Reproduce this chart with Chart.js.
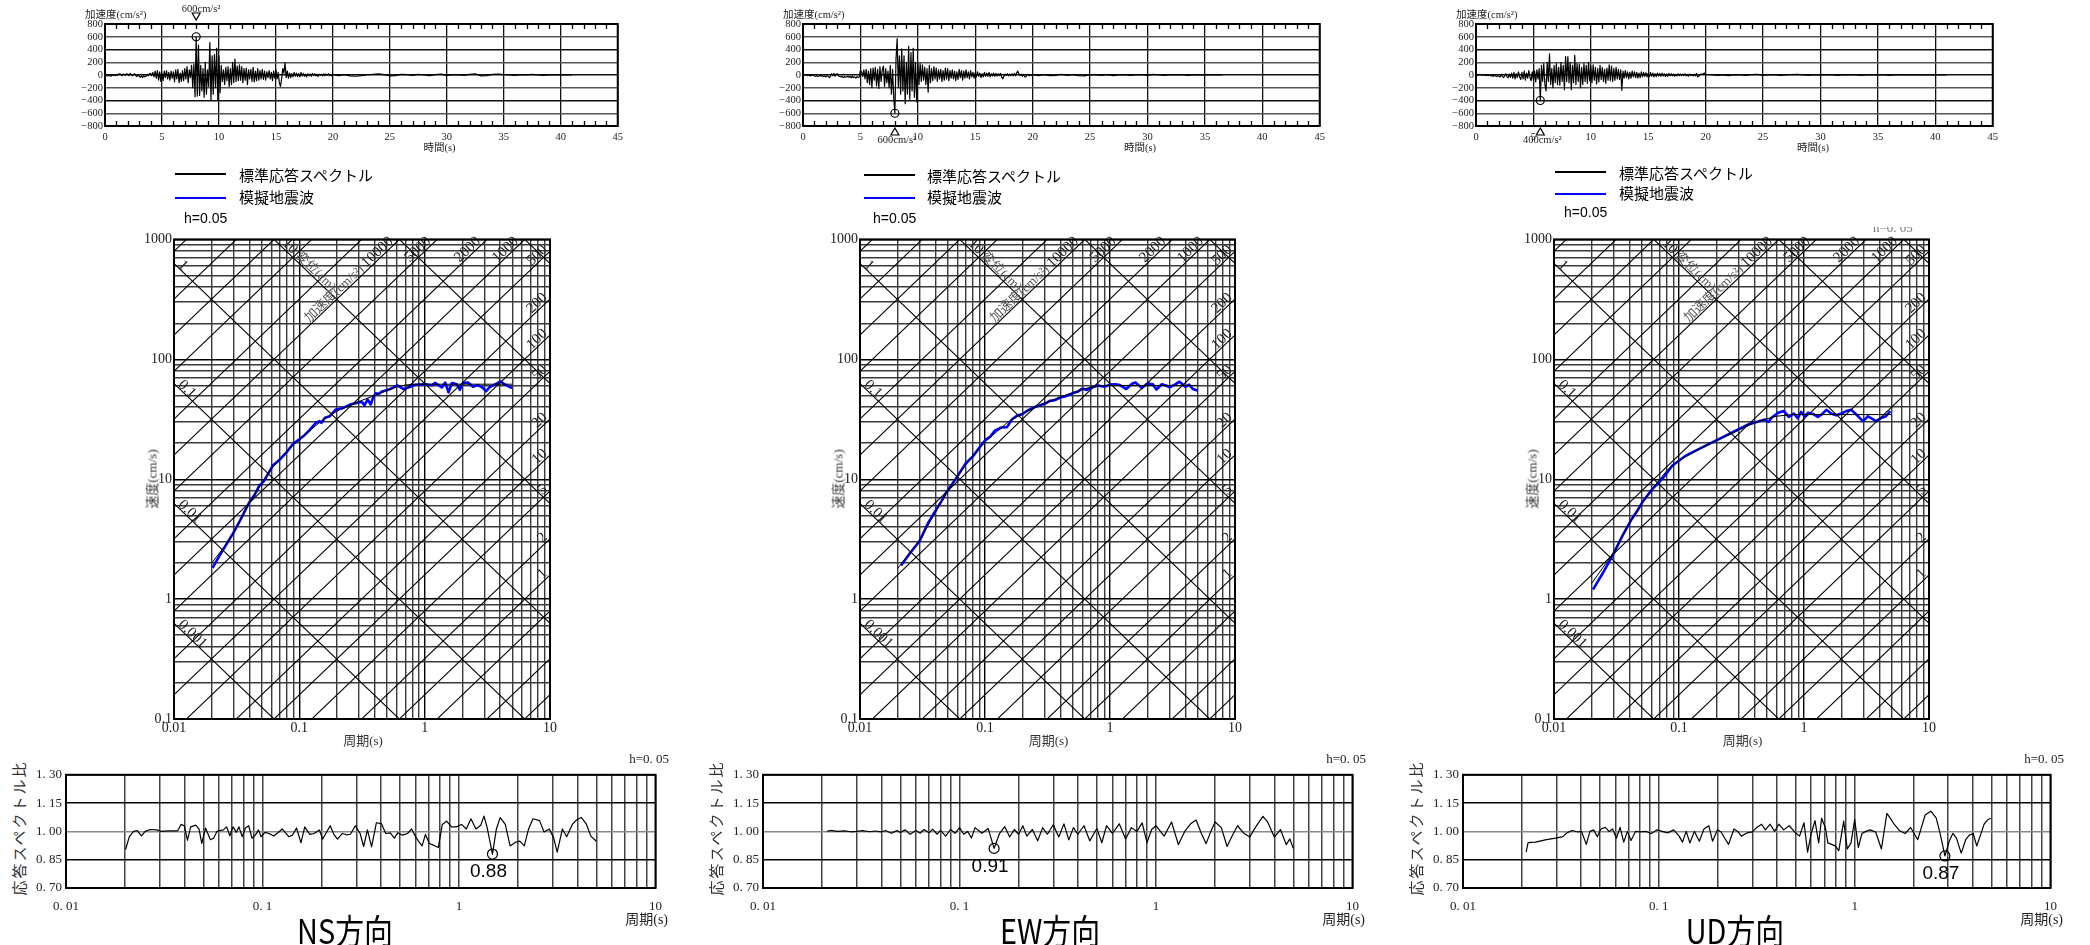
<!DOCTYPE html>
<html><head><meta charset="utf-8">
<script src="https://cdn.jsdelivr.net/npm/chart.js@4.4.1/dist/chart.umd.min.js"></script>
<style>
html,body{margin:0;padding:0;background:#fff;}
#root{position:relative;width:2090px;height:945px;overflow:hidden;background:#fff;}
canvas{position:absolute;}
.t{position:absolute;white-space:nowrap;line-height:1;}
.ln{position:absolute;height:2px;}
.clip{position:absolute;overflow:hidden;}
</style></head><body><div id="root"></div>
<script>
// ---------------- DATA ----------------
const TIME_TICKS = [0,5,10,15,20,25,30,35,40,45];
const ACC_TICKS = [-800,-600,-400,-200,0,200,400,600,800];
const DT_STRONG = 0.1, DT_TAIL = 0.5;

const nsAccStrong = [
-5,-10,-15,-8,-12,-18,-10,5,-8,-12,
10,-5,15,20,5,-10,15,10,-5,20,
15,-10,25,10,-15,5,20,-10,-25,10,
-20,-35,-15,-40,-10,-30,-20,10,-15,20,
25,-10,40,-30,60,-50,70,-80,50,-100,
30,-90,60,-40,70,-60,40,-80,60,-50,
50,-110,80,-60,90,-120,30,-100,70,-90,
100,-60,130,-120,80,-40,150,-200,170,-340,
600,-330,470,-320,150,-250,100,-350,200,-300,
80,-180,510,-400,300,-300,320,-200,420,-400,
300,-280,150,-100,80,-150,120,-90,130,-180,
100,-150,200,-120,250,-100,140,-90,160,-80,
130,-120,100,-80,110,-150,80,-60,90,-100,
120,-110,60,-90,100,-80,70,-60,90,-70,
60,-80,50,-40,70,-60,40,-90,60,-50,
80,-60,40,-120,-180,-60,100,30,190,-40,
60,-50,30,-40,20,-30,40,-20,30,-25,
20,-30,40,-15,25,-20,10,-30,20,-10,
15,-20,25,-10,20,-15,10,-25,15,-5,
10,-15,20,-10,15,-5,20,-10,5,-15,
5];
const nsAccTail = [-10,5,-15,-20,-10,5,10,20,5,-15,-10,10,5,-5,10,0,-10,5,15,-5,0,5,-5,10,20,-15,-10,10,15,5,0,-5,5,0,10,0,-5,0,5,0,0,0];

const ewAccStrong = [
0,5,-5,10,-10,5,-15,-10,5,-5,
-15,-20,-10,-25,-15,-5,-20,-10,-25,-15,
-30,-10,-25,-40,-15,20,-10,25,-20,15,
20,-15,-25,-30,-20,-40,-25,-35,-30,-20,
-35,-20,-45,-15,-40,-30,-50,-25,-40,-30,
70,50,-20,80,-60,90,-120,60,-150,100,
-200,110,-80,120,-170,90,-210,130,-100,80,
140,-180,100,-120,60,-200,150,-300,90,-350,
-600,250,570,-200,300,-300,410,-250,300,-450,
200,-300,450,-380,350,-250,420,-350,200,-420,
200,-150,180,-100,160,-80,120,-150,100,-270,
150,-120,100,-90,130,-60,110,-100,80,-60,
90,-100,70,-80,110,-60,100,-90,70,-50,
80,-60,60,-90,50,-70,90,-40,70,-80,
60,-50,80,-40,50,-60,70,-30,40,-50,
40,-30,50,-20,30,-40,20,-30,40,-20,
30,-20,40,-30,20,-15,30,-20,25,-15,
20,-10,25,-30,-60,-20,15,-10,20,-15,
15,-10,20,-15,25,-10,30,60,20,-10,
15,-20,10,-25,-30,5,10,-15,5,-10,
5];
const ewAccTail = [-10,5,-10,-5,10,-5,5,-10,-15,5,0,-5,5,-10,0,5,-5,0,5,-5,10,0,-5,5,0,5,-5,0,5,0,5,0,0];

const udAccStrong = [
5,0,-5,10,5,-5,0,5,-10,0,
-5,-10,5,-15,-10,-20,-5,-15,-25,-10,
-20,-30,10,-25,-40,-15,20,-30,-45,15,
-35,30,-50,40,-60,20,-40,50,-30,-70,
40,-60,60,-80,30,-50,70,-40,-90,50,
-80,60,-110,80,-60,100,-400,150,-100,180,
-150,-250,200,-100,330,-150,100,-200,150,-120,
180,-150,120,-160,200,-100,150,-230,290,-100,
290,-120,200,-230,150,-120,310,-150,180,-100,
170,-200,120,-150,180,-100,150,-130,200,-90,
140,-120,160,-80,120,-140,100,-110,150,-70,
120,-100,90,-130,110,-80,160,-90,140,-100,
100,-80,120,-60,90,-70,80,-240,60,-50,
70,-40,50,-60,40,-50,60,-30,50,-40,
40,-50,30,-40,50,-30,40,-20,35,-30,
30,-25,40,-20,30,-30,20,-25,30,-15,
25,-20,30,-15,20,-25,15,-20,25,-10,
20,-15,15,-20,10,-15,20,-10,15,-10,
15,-10,20,-15,10,-20,15,-10,5,-15,
10,-15,25,-30,-20,5,15,10,20,30,
10];
const udAccTail = [5,-5,0,-10,5,0,-5,5,10,-5,0,5,-5,0,5,10,0,-5,5,0,5,0,-5,5,0,5,-5,0,5,0,5,-5,0,5,0,5,0,0,0,0,0,0];

// Tripartite response spectra (period s, velocity cm/s)
const nsStdT = [0.02,0.025,0.03,0.04,0.05,0.06,0.08,0.1,0.15,0.2,0.3,0.4,0.5,0.6,0.7,0.8,1,2,5];
const nsStdV = [2.0,2.7,3.6,6.4,9.2,12.2,17.3,21.6,30.5,37,44.5,50,55,59,61,61.8,62,62,62];
const nsSimT = [0.0203,0.0243,0.0296,0.0333,0.04,0.044,0.0481,0.052,0.0614,0.07,0.08,0.0888,0.1,0.11,0.12,0.136,0.145,0.15,0.16,0.175,0.195,0.22,0.254,0.286,0.31,0.322,0.33,0.35,0.371,0.385,0.406,0.43,0.459,0.519,0.56,0.604,0.68,0.77,0.84,1.01,1.14,1.21,1.37,1.46,1.55,1.65,1.8,1.91,2.02,2.22,2.43,2.66,2.9,3.09,3.28,3.59,4.04,4.29,4.83,5.0];
const nsSimV = [1.82,2.52,3.53,4.42,6.45,7.4,8.87,9.6,13.0,14.6,17.0,19.6,21.5,23.3,25.5,29.6,30.5,29.5,32.5,33.5,38.1,39,41.9,43.3,44,43.3,41,46.2,42,47,52,51.5,54,56,58,60.6,56.5,59,61.3,62,60.6,63.5,58.3,64,53,63.5,62,55.7,63.5,64,59,61,58,54,58.3,61.3,65.3,62.5,58.3,58];

const ewStdT = [0.02,0.03,0.04,0.05,0.06,0.08,0.1,0.15,0.2,0.3,0.4,0.5,0.6,0.7,0.8,1,2,5];
const ewStdV = [1.8,3.1,5.3,7.9,10.6,15.7,20.5,29.5,35.5,43,48.5,52.5,56,58.5,60,60.5,60.5,60.5];
const ewSimT = [0.0213,0.025,0.03,0.035,0.0382,0.045,0.0488,0.055,0.06,0.0702,0.08,0.09,0.101,0.11,0.12,0.135,0.15,0.164,0.18,0.2,0.22,0.25,0.268,0.3,0.33,0.36,0.4,0.436,0.5,0.55,0.6,0.65,0.71,0.8,0.9,1.0,1.1,1.2,1.35,1.5,1.6,1.8,2.0,2.2,2.35,2.6,2.8,3.0,3.3,3.6,4.0,4.3,4.6,5.0];
const ewSimV = [1.91,2.4,3.05,4.3,5.0,6.6,7.7,9.2,10.5,13.6,15.5,18.3,21.3,22.6,25.4,27,27.2,31.5,33.8,35,37.5,40,41,42.5,45,45.5,48,49,52,53.5,57,55.5,58,60.5,59,61.5,62,61,56.5,62.5,64,57.5,63,62,56,62,60.5,58.5,61.5,65,59,61.5,56.5,55];

const udStdT = [0.02,0.03,0.04,0.05,0.06,0.08,0.1,0.15,0.2,0.3,0.4,0.5,0.6,0.8,1,2,5];
const udStdV = [1.35,2.45,4.3,6.2,8.1,11.8,14.3,18.3,21,25.8,29.5,31.8,33.5,34.6,34.6,34.6,34.6];
const udSimT = [0.0205,0.0246,0.0296,0.0355,0.0414,0.0467,0.051,0.0614,0.0737,0.0886,0.113,0.144,0.195,0.264,0.358,0.487,0.52,0.55,0.622,0.69,0.756,0.83,0.89,0.95,1.01,1.08,1.18,1.29,1.38,1.51,1.65,1.81,1.99,2.18,2.39,2.62,2.96,3.25,3.77,4.13,4.52,4.9];
const udSimV = [1.2,1.65,2.34,3.42,4.56,5.51,6.45,8.3,10.1,13.0,15.7,17.8,20.9,24.4,28.6,31.5,30,32.5,35.8,37,33.1,35.3,32.3,36.4,33.5,35.8,35,33.1,34.6,37.9,35.3,34.1,35.3,37,37.9,34.6,30.5,33.5,30.5,32.3,33.5,37];

// Response spectrum ratio (period s, ratio)
const nsRatioT = [0.0201,0.021,0.0221,0.023,0.0242,0.0253,0.0268,0.0289,0.0306,0.033,0.037,0.0385,0.04,0.0415,0.0431,0.0457,0.0475,0.0491,0.0513,0.0543,0.0564,0.0586,0.0613,0.0632,0.0657,0.0682,0.0708,0.0736,0.0759,0.0788,0.0819,0.0851,0.0884,0.0919,0.0954,0.0984,0.103,0.108,0.114,0.121,0.126,0.131,0.136,0.142,0.149,0.157,0.164,0.174,0.183,0.195,0.202,0.21,0.221,0.232,0.241,0.255,0.268,0.28,0.297,0.314,0.327,0.342,0.359,0.38,0.403,0.424,0.447,0.469,0.488,0.516,0.547,0.574,0.601,0.63,0.649,0.675,0.706,0.742,0.785,0.822,0.865,0.916,0.97,1.03,1.09,1.15,1.22,1.29,1.34,1.39,1.48,1.55,1.62,1.72,1.82,1.94,2.04,2.15,2.26,2.38,2.57,2.71,2.88,3.03,3.16,3.36,3.53,3.78,3.98,4.19,4.45,4.69,5.0];
const nsRatioV = [0.904,0.972,1.0,1.005,0.976,1.0,1.01,1.008,1.0,1.003,1.003,1.037,1.03,0.953,1.024,1.033,1.013,0.936,1.018,0.956,0.964,1.0,1.005,1.008,1.024,0.977,1.024,0.995,1.024,0.972,1.018,1.03,0.964,0.98,1.008,0.972,0.995,0.989,0.976,0.997,1.013,0.992,0.972,0.98,1.018,0.94,1.024,0.984,0.989,1.008,0.959,0.989,1.03,0.98,0.959,0.989,0.982,0.985,1.03,0.989,0.92,1.008,0.918,1.046,1.041,0.989,0.992,0.964,0.992,0.98,0.989,1.013,0.972,0.94,0.923,0.984,0.936,0.927,0.915,1.037,1.054,1.024,1.024,1.037,1.013,1.067,1.013,1.033,1.081,1.021,0.88,1.013,1.073,1.037,0.923,0.943,0.948,0.923,1.013,1.067,1.057,0.997,1.013,0.967,0.89,1.013,0.972,1.038,1.062,1.074,1.038,0.975,0.948];

const ewRatioT = [0.0212,0.022,0.024,0.026,0.028,0.03,0.032,0.035,0.037,0.04,0.042,0.045,0.048,0.05,0.053,0.056,0.06,0.063,0.066,0.07,0.073,0.077,0.08,0.085,0.09,0.095,0.1,0.105,0.11,0.115,0.12,0.13,0.14,0.15,0.16,0.17,0.18,0.19,0.2,0.21,0.22,0.235,0.25,0.265,0.28,0.3,0.32,0.34,0.36,0.38,0.4,0.43,0.46,0.5,0.53,0.56,0.6,0.65,0.7,0.75,0.8,0.85,0.9,0.95,1.0,1.1,1.2,1.3,1.4,1.5,1.6,1.7,1.8,1.9,2.0,2.15,2.3,2.45,2.6,2.8,3.0,3.2,3.5,3.7,4.0,4.3,4.6,4.8,5.0];
const ewRatioV = [1.0,1.005,1.0,1.003,0.998,1.0,1.004,0.998,1.002,0.997,1.005,0.99,1.004,0.995,1.008,0.985,1.005,0.99,1.01,0.993,1.012,0.985,1.005,0.975,1.01,0.99,1.02,0.985,1.0,0.965,1.02,0.99,1.015,0.91,0.99,1.025,0.97,1.01,0.985,1.03,0.975,1.01,0.95,1.02,0.985,1.035,0.97,1.04,0.955,1.02,0.985,1.03,0.95,1.015,0.94,1.03,0.99,1.04,0.96,1.02,1.0,1.045,0.94,1.01,1.03,0.975,1.05,0.93,1.0,1.04,1.06,0.99,0.935,1.0,1.05,1.02,0.92,0.98,1.03,0.99,0.97,1.02,1.08,1.05,0.97,1.01,0.93,0.96,0.91];

const udRatioT = [0.021,0.0215,0.0234,0.0267,0.0297,0.0324,0.0339,0.0361,0.0386,0.0403,0.0426,0.0445,0.0465,0.0485,0.0506,0.0533,0.0557,0.0581,0.0607,0.0634,0.0662,0.0691,0.0721,0.076,0.0804,0.0858,0.0916,0.0977,0.104,0.111,0.119,0.127,0.132,0.138,0.144,0.152,0.161,0.17,0.18,0.188,0.199,0.208,0.217,0.227,0.242,0.253,0.264,0.282,0.301,0.316,0.335,0.35,0.37,0.39,0.41,0.434,0.463,0.494,0.523,0.551,0.575,0.6,0.627,0.655,0.678,0.708,0.73,0.762,0.795,0.83,0.879,0.917,0.958,1.0,1.044,1.09,1.14,1.2,1.28,1.37,1.46,1.52,1.59,1.69,1.81,1.93,2.1,2.29,2.45,2.61,2.73,2.89,3.04,3.17,3.31,3.5,3.69,3.85,4.03,4.2,4.39,4.58,4.79,4.95];
const udRatioV = [0.89,0.94,0.943,0.956,0.964,0.972,0.992,1.005,0.997,1.0,0.931,1.0,1.008,0.972,1.013,1.021,1.0,1.013,0.964,1.021,0.943,1.0,0.952,1.0,0.997,1.0,0.989,1.008,1.0,0.992,1.008,0.975,0.943,1.0,0.939,1.0,0.948,1.013,1.03,0.948,1.008,0.997,0.964,0.931,1.013,1.0,0.975,0.992,0.997,1.021,1.038,1.008,1.038,1.0,1.038,1.008,1.03,0.997,0.975,1.046,0.89,0.989,1.057,0.939,1.07,1.021,0.939,0.931,0.923,0.898,1.054,0.907,0.939,1.062,0.915,0.989,1.0,1.008,0.997,0.907,1.095,1.07,1.038,1.005,0.989,1.021,0.956,1.087,1.107,1.07,0.989,0.87,0.948,0.989,0.964,0.885,0.956,0.98,0.989,0.923,0.98,1.038,1.062,1.07];

const DISP_LINES = [0.001,0.01,0.1,1,10,100,1000];
const ACC_LINES = [0.1,0.2,0.5,1,2,5,10,20,50,100,200,500,1000,2000,5000,10000,20000,50000,100000,200000,500000];
const DISP_LEFT_LABELS = ['1','0.1','0.01','0.001'];
const ACC_TOP_LABELS = ['10000','5000','2000','1000'];
const ACC_RIGHT_LABELS = ['500','200','100','50','20','10','5','2','1'];
const RATIO_TICKS = [0.7,0.85,1.0,1.15,1.3];

// ---------------- LAYOUT ----------------
const TIME_Y = [24,126], TRI_Y = [235,719], RAT_Y = [767,888];
const PANELS = [
 {time:[105,624], tri:[174,552], ratio:[66,669], title:'NS方向', titleX:345, leg:[175,239,184], legY:[174,196,218],
  acc:[nsAccStrong,nsAccTail], std:[nsStdT,nsStdV], sim:[nsSimT,nsSimV], rat:[nsRatioT,nsRatioV], peakTri:'down'},
 {time:[803,1326], tri:[860,1237], ratio:[763,1366], title:'EW方向', titleX:1050, leg:[864,927,873], legY:[175,196,218],
  acc:[ewAccStrong,ewAccTail], std:[ewStdT,ewStdV], sim:[ewSimT,ewSimV], rat:[ewRatioT,ewRatioV], peakTri:'up'},
 {time:[1476,1999], tri:[1554,1931], ratio:[1463,2064], title:'UD方向', titleX:1735, leg:[1555,1619,1564], legY:[172,192,212],
  acc:[udAccStrong,udAccTail], std:[udStdT,udStdV], sim:[udSimT,udSimV], rat:[udRatioT,udRatioV], peakTri:'up', cutH:true},
];

const SERIF = '"Liberation Serif","DejaVu Serif","Noto Sans CJK JP",serif';
const SANS = '"Liberation Sans","Noto Sans CJK JP",sans-serif';
const CJK = '"Noto Sans CJK JP",sans-serif';
const TWO_PI = 2*Math.PI;
const root = document.getElementById('root');

function addText(txt, x, y, o={}, parent) {
  const d = document.createElement('div'); d.className='t'; d.textContent = txt;
  d.style.left = x+'px'; d.style.top = y+'px';
  d.style.fontSize = (o.size||12)+'px'; d.style.fontFamily = o.font||SERIF; d.style.color = o.color||'#000';
  if (o.ls) d.style.letterSpacing = o.ls+'px';
  if (o.weight) d.style.fontWeight = o.weight;
  const ax = o.align==='center' ? '-50%' : o.align==='right' ? '-100%' : '0';
  let tr = `translate(${ax},-50%)`;
  if (o.rot) tr = `translate(-50%,-50%) rotate(${o.rot}deg)`;
  if (o.sx) tr += ` scaleX(${o.sx})`;
  d.style.transform = tr;
  (parent||root).appendChild(d);
}
function addLine(x1, x2, y, color) {
  const d = document.createElement('div'); d.className='ln';
  d.style.left = x1+'px'; d.style.top = (y-1)+'px'; d.style.width = (x2-x1)+'px'; d.style.background = color;
  root.appendChild(d);
}
function makeChart(l, r, t, b, m, cfg) {
  const w = r-l, h = b-t;
  const c = document.createElement('canvas');
  const W = w + m.L + m.R, H = h + m.T + m.B;
  c.width = W; c.height = H;
  c.style.left = (l - m.L)+'px'; c.style.top = (t - m.T)+'px';
  c.style.width = W+'px'; c.style.height = H+'px';
  root.appendChild(c);
  cfg.options.layout = {padding:{top:m.T, right:m.R, left:0, bottom:0}};
  cfg.options.scales.x.afterFit = s => { s.height = m.B; };
  cfg.options.scales.y.afterFit = s => { s.width = m.L; };
  return new Chart(c.getContext('2d'), cfg);
}
function baseOpts() {
  return {animation:false, responsive:false, devicePixelRatio:1, maintainAspectRatio:false,
    plugins:{legend:{display:false}, tooltip:{enabled:false}},
    elements:{point:{radius:0}, line:{tension:0, borderJoinStyle:'round'}}};
}
function logTicks(e0, e1) {
  const out=[]; for (let e=e0;e<e1;e++) for (let m=1;m<10;m++) out.push(+(m*Math.pow(10,e)).toPrecision(4));
  out.push(+Math.pow(10,e1).toPrecision(4)); return out;
}
const isDec = v => Math.abs(Math.log10(v)-Math.round(Math.log10(v))) < 1e-9;
function toPts(T, V) { return T.map((t,i)=>({x:t, y:V[i]})); }
function accSeries(strong, tail) {
  const pts=[]; strong.forEach((v,i)=>pts.push({x:+(i*DT_STRONG).toFixed(2), y:v}));
  const t0=(strong.length-1)*DT_STRONG;
  tail.forEach((v,j)=>pts.push({x:+(t0+(j+1)*DT_TAIL).toFixed(2), y:v}));
  return pts;
}

// ---------------- TIME HISTORY ----------------
function timeChart(p) {
  const pts = accSeries(p.acc[0], p.acc[1]);
  let pk = pts[0]; pts.forEach(q => { if (Math.abs(q.y) > Math.abs(pk.y)) pk = q; });
  const tickFont = {family:SERIF, size:10.5};
  const plug = {id:'timeDeco', afterDraw(ch) {
    const {ctx, chartArea:a, scales:{x,y}} = ch;
    ctx.save(); ctx.strokeStyle='#000'; ctx.lineWidth=1.3;
    for (let s=1; s<45; s++) { if (s%5===0) continue;
      const px = Math.round(x.getPixelForValue(s))+0.5;
      ctx.beginPath(); ctx.moveTo(px,a.top); ctx.lineTo(px,a.top+5); ctx.moveTo(px,a.bottom); ctx.lineTo(px,a.bottom-5); ctx.stroke(); }
    ctx.lineWidth=2; ctx.strokeRect(a.left,a.top,a.right-a.left,a.bottom-a.top);
    const px = x.getPixelForValue(pk.x), py = y.getPixelForValue(pk.y);
    ctx.lineWidth=1.2; ctx.beginPath(); ctx.arc(px,py,4,0,TWO_PI); ctx.stroke();
    ctx.fillStyle='#222'; ctx.font='10.5px '+SERIF; ctx.textAlign='center'; ctx.textBaseline='middle';
    const lbl = Math.abs(pk.y)+'cm/s²';
    ctx.beginPath();
    if (p.peakTri==='down') {
      const ty = a.top-4;
      ctx.moveTo(px-4,ty-7); ctx.lineTo(px+4,ty-7); ctx.lineTo(px,ty); ctx.closePath(); ctx.stroke();
      ctx.fillText(lbl, px+5, a.top-15);
    } else {
      const ty = a.bottom+2;
      ctx.moveTo(px,ty); ctx.lineTo(px-4,ty+7); ctx.lineTo(px+4,ty+7); ctx.closePath(); ctx.stroke();
      ctx.fillText(lbl, px+2, a.bottom+14);
    }
    ctx.restore();
  }};
  makeChart(p.time[0], p.time[1], TIME_Y[0], TIME_Y[1], {L:40, T:22, R:4, B:32}, {
    type:'line',
    data:{datasets:[{data:pts, borderColor:'#000', borderWidth:1.2, pointRadius:0}]},
    options:Object.assign(baseOpts(), {scales:{
      x:{type:'linear', min:0, max:45,
         afterBuildTicks:s=>{s.ticks=TIME_TICKS.map(v=>({value:v}));},
         ticks:{font:tickFont, color:'#222', padding:5, maxRotation:0, autoSkip:false},
         grid:{color:'#111', lineWidth:1.3, drawTicks:false}, border:{display:false}},
      y:{type:'linear', min:-800, max:800,
         afterBuildTicks:s=>{s.ticks=ACC_TICKS.map(v=>({value:v}));},
         ticks:{font:tickFont, color:'#222', padding:2, autoSkip:false, callback:v=> v<0 ? '−'+Math.abs(v) : String(v)},
         grid:{color:ctx=> (Math.abs(ctx.tick.value)===400||ctx.tick.value===0) ? '#111' : '#555', lineWidth:1.4, drawTicks:false}, border:{display:false}}
    }}),
    plugins:[plug]
  });
  const tx = p.time[0] + (p.time[1]-p.time[0])*29/45;
  addText('加速度(cm/s²)', p.time[0]-20, 15, {size:10.5, color:'#222'});
  addText('時間(s)', tx, 148, {size:10.5, align:'center', color:'#222'});
}

// ---------------- TRIPARTITE ----------------
function triChart(p) {
  const ds = [];
  DISP_LINES.forEach(D => ds.push({data:[{x:0.001,y:TWO_PI*D/0.001},{x:100,y:TWO_PI*D/100}], borderColor:'#000', borderWidth:1.1}));
  ACC_LINES.forEach(A => ds.push({data:[{x:0.001,y:A*0.001/TWO_PI},{x:100,y:A*100/TWO_PI}], borderColor:'#000', borderWidth:1.1}));
  ds.push({data:toPts(p.std[0],p.std[1]), borderColor:'#000', borderWidth:1});
  ds.push({data:toPts(p.sim[0],p.sim[1]), borderColor:'#0000ff', borderWidth:2.6});
  const xT = logTicks(-2,1), yT = logTicks(-1,3);
  const tickFont = {family:SERIF, size:14};
  const plug = {id:'triDeco', afterDraw(ch) {
    const {ctx, chartArea:a, scales:{x,y}} = ch;
    const P = (t,v)=>({x:x.getPixelForValue(t), y:y.getPixelForValue(v)});
    const d1=P(0.01,TWO_PI/0.01), d2=P(0.1,TWO_PI/0.1); const angD=Math.atan2(d2.y-d1.y,d2.x-d1.x);
    const a1=P(0.01,0.01/TWO_PI), a2=P(0.1,0.1/TWO_PI); const angA=Math.atan2(a2.y-a1.y,a2.x-a1.x);
    ctx.save(); ctx.fillStyle='#222'; ctx.font='15px '+SERIF; ctx.textBaseline='alphabetic';
    DISP_LEFT_LABELS.forEach(l => { const D=+l; const q=P(0.01, TWO_PI*D/0.01);
      ctx.save(); ctx.translate(q.x, q.y); ctx.rotate(angD); ctx.textAlign='left'; ctx.fillText(l, 4, -1); ctx.restore(); });
    { const q=P(TWO_PI*10/1000, 1000); ctx.save(); ctx.translate(q.x,q.y); ctx.rotate(angD); ctx.textAlign='left';
      ctx.fillText('10', 9, -2); const w=ctx.measureText('10').width; ctx.fillStyle='#555'; ctx.font='13px '+SERIF; ctx.fillText('変位(cm)', 9+w+3, -2); ctx.restore(); }
    ACC_TOP_LABELS.forEach(l => { const A=+l; const q=P(TWO_PI*1000/A, 1000);
      ctx.save(); ctx.translate(q.x,q.y); ctx.rotate(angA); ctx.textAlign='right'; ctx.fillText(l, -6, -2);
      if (l==='10000') { const w=ctx.measureText(l).width; ctx.fillStyle='#555'; ctx.font='13px '+SERIF; ctx.fillText('加速度(cm/s²)', -6-w-3, -2); }
      ctx.restore(); });
    ACC_RIGHT_LABELS.forEach(l => { const A=+l; const q=P(10, A*10/TWO_PI);
      ctx.save(); ctx.translate(q.x,q.y); ctx.rotate(angA); ctx.textAlign='right'; ctx.fillText(l, -1, -2); ctx.restore(); });
    ctx.strokeStyle='#000'; ctx.lineWidth=2; ctx.strokeRect(a.left,a.top,a.right-a.left,a.bottom-a.top);
    ctx.restore();
  }};
  const decLbl = v => isDec(v) ? String(+v.toPrecision(3)) : '';
  makeChart(p.tri[0], p.tri[1], TRI_Y[0], TRI_Y[1], {L:32, T:6, R:6, B:26}, {
    type:'line', data:{datasets:ds},
    options:Object.assign(baseOpts(), {scales:{
      x:{type:'logarithmic', min:0.01, max:10,
         afterBuildTicks:s=>{s.ticks=xT.map(v=>({value:v, major:isDec(v)}));},
         ticks:{font:tickFont, color:'#222', padding:1, maxRotation:0, autoSkip:false, callback:decLbl},
         grid:{color:ctx=>isDec(ctx.tick.value)?'#000':'#3a3a3a', lineWidth:1.4, drawTicks:false}, border:{display:false}},
      y:{type:'logarithmic', min:0.1, max:1000,
         afterBuildTicks:s=>{s.ticks=yT.map(v=>({value:v, major:isDec(v)}));},
         ticks:{font:tickFont, color:'#222', padding:2, autoSkip:false, callback:decLbl},
         grid:{color:ctx=>isDec(ctx.tick.value)?'#000':'#3a3a3a', lineWidth:1.4, drawTicks:false}, border:{display:false}}
    }}),
    plugins:[plug]
  });
  addText('周期(s)', (p.tri[0]+p.tri[1])/2, 740, {size:13, align:'center', color:'#333'});
  addText('速度(cm/s)', p.tri[0]-22, 479, {size:13, rot:-90, color:'#333'});
  addLine(p.leg[0], p.leg[0]+51, p.legY[0], '#000');
  addText('標準応答スペクトル', p.leg[1], p.legY[0], {size:15, font:CJK});
  addLine(p.leg[0], p.leg[0]+51, p.legY[1]+2, '#0000ff');
  addText('模擬地震波', p.leg[1], p.legY[1], {size:15, font:CJK});
  addText('h=0.05', p.leg[2], p.legY[2], {size:14, font:SANS});
  if (p.cutH) {
    // partially visible damping note above the upper-right corner
    const box = document.createElement('div'); box.className='clip';
    box.style.left=(p.tri[1]-62)+'px'; box.style.top='227px'; box.style.width='60px'; box.style.height='6px';
    root.appendChild(box);
    addText('h=0. 05', 4, 0, {size:13, color:'#777'}, box);
  }
}

// ---------------- RATIO ----------------
function ratioChart(p) {
  const pts = toPts(p.rat[0], p.rat[1]);
  let mn = pts[0]; pts.forEach(q => { if (q.y < mn.y) mn = q; });
  const xT = logTicks(-2,1);
  const tickFont = {family:SERIF, size:13};
  const xl = {0.01:'0. 01', 0.1:'0. 1', 1:'1', 10:'10'};
  const plug = {id:'ratDeco', afterDraw(ch) {
    const {ctx, chartArea:a, scales:{x,y}} = ch;
    ctx.save(); ctx.strokeStyle='#000'; ctx.lineWidth=2; ctx.strokeRect(a.left,a.top,a.right-a.left,a.bottom-a.top);
    const px=x.getPixelForValue(mn.x), py=y.getPixelForValue(mn.y);
    ctx.lineWidth=1.2; ctx.beginPath(); ctx.arc(px,py,5,0,TWO_PI); ctx.stroke();
    ctx.fillStyle='#000'; ctx.font='19px '+SANS; ctx.textAlign='center'; ctx.textBaseline='middle';
    ctx.fillText(mn.y.toFixed(2), px-4, py+18);
    ctx.restore();
  }};
  makeChart(p.ratio[0], p.ratio[1], RAT_Y[0], RAT_Y[1], {L:36, T:4, R:4, B:26}, {
    type:'line', data:{datasets:[{data:pts, borderColor:'#000', borderWidth:1.2}]},
    options:Object.assign(baseOpts(), {scales:{
      x:{type:'logarithmic', min:0.01, max:10,
         afterBuildTicks:s=>{s.ticks=xT.map(v=>({value:v, major:isDec(v)}));},
         ticks:{font:tickFont, color:'#222', padding:11, maxRotation:0, autoSkip:false, callback:v=> isDec(v) ? xl[+v.toPrecision(3)] : ''},
         grid:{color:'#444', lineWidth:1.5, drawTicks:false}, border:{display:false}},
      y:{type:'linear', min:0.7, max:1.3,
         afterBuildTicks:s=>{s.ticks=RATIO_TICKS.map(v=>({value:v}));},
         ticks:{font:tickFont, color:'#222', padding:4, autoSkip:false, callback:v=> v.toFixed(2).replace('.', '. ')},
         grid:{color:ctx=> Math.abs(ctx.tick.value-1)<1e-6 ? '#888' : '#000', lineWidth:1.5, drawTicks:false}, border:{display:false}}
    }}),
    plugins:[plug]
  });
  addText('h=0. 05', p.ratio[1], 758, {size:13, align:'right', color:'#222'});
  addText('周期(s)', p.ratio[1]-1, 920, {size:14, align:'right', color:'#222'});
  addText('応答スペクトル比', p.ratio[0]-46, 828, {size:15, rot:-90, ls:2, color:'#333'});
  addText(p.title, p.titleX, 930, {size:34, font:CJK, align:'center', sx:0.85});
}

PANELS.forEach(p => { timeChart(p); triChart(p); ratioChart(p); });
</script></body></html>
